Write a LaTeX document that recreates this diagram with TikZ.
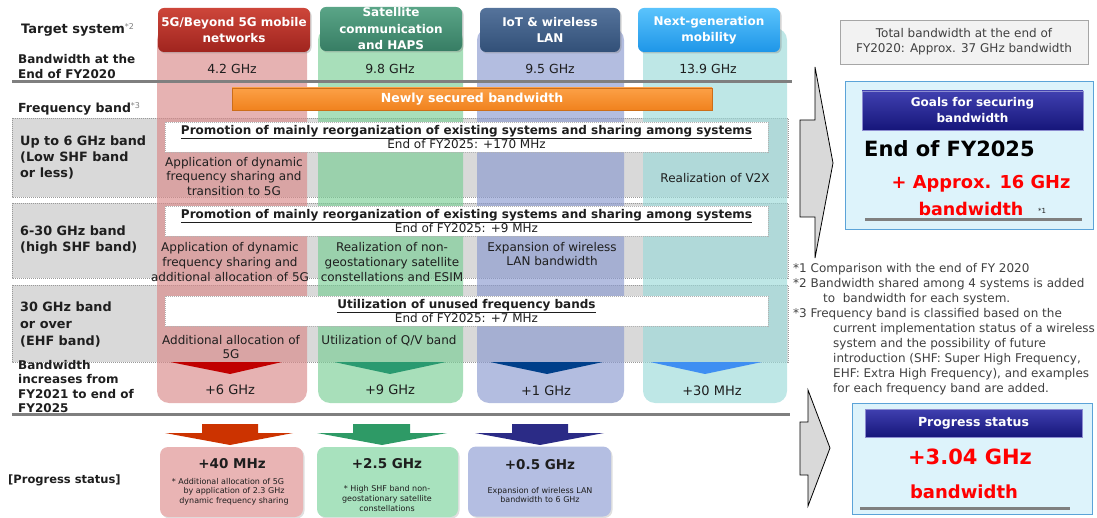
\documentclass[tikz,border=0pt]{standalone}
\usepackage{fontspec}
\setmainfont{DejaVu Sans}
\usetikzlibrary{shadows}
\newcommand\fsz[2]{\fontsize{#1}{#2}\selectfont}
\definecolor{cRed}{RGB}{217,137,137}
\definecolor{cGrn}{RGB}{121,206,149}
\definecolor{cBlu}{RGB}{138,153,207}
\definecolor{cTea}{RGB}{155,218,217}
\definecolor{rowg}{RGB}{217,217,217}
\definecolor{txt}{RGB}{30,30,30}
\definecolor{ftxt}{RGB}{64,64,64}
\definecolor{sepc}{RGB}{127,127,127}
\definecolor{hRedT}{RGB}{205,70,58}\definecolor{hRedB}{RGB}{160,36,30}
\definecolor{hGrnT}{RGB}{90,165,135}\definecolor{hGrnB}{RGB}{55,125,100}
\definecolor{hBluT}{RGB}{85,115,155}\definecolor{hBluB}{RGB}{50,80,120}
\definecolor{hSkyT}{RGB}{90,195,252}\definecolor{hSkyB}{RGB}{30,150,232}
\definecolor{orT}{RGB}{252,160,70}\definecolor{orB}{RGB}{240,130,30}
\definecolor{chR}{RGB}{192,0,0}
\definecolor{chG}{RGB}{42,154,112}
\definecolor{chB}{RGB}{0,63,138}
\definecolor{chS}{RGB}{63,143,242}
\definecolor{arR}{RGB}{204,51,0}
\definecolor{arG}{RGB}{46,154,102}
\definecolor{arB}{RGB}{43,43,134}
\definecolor{pRed}{RGB}{233,180,180}
\definecolor{pGrn}{RGB}{168,226,190}
\definecolor{pBlu}{RGB}{180,190,226}
\definecolor{goalbg}{RGB}{221,243,251}
\definecolor{goalbd}{RGB}{91,163,216}
\definecolor{navT}{RGB}{64,64,176}\definecolor{navB}{RGB}{22,22,122}
\definecolor{totbg}{RGB}{242,242,242}
\definecolor{bigar}{RGB}{217,217,217}
\begin{document}
\begin{tikzpicture}[x=1pt,y=-1pt,
  lbl/.style={font=\bfseries\fsz{12}{15}, align=left, anchor=west, inner sep=0pt, text=txt},
  rlbl/.style={font=\bfseries\fsz{12.8}{16}, align=left, anchor=west, inner sep=0pt, text=txt},
  ctxt/.style={font=\fsz{12}{14.8}, align=center, inner sep=0pt, text=txt},
  val/.style={font=\fsz{12.5}{15}, inner sep=0pt, text=txt},
  hdr/.style={rounded corners=6pt, text=white, font=\bfseries\fsz{12}{16.5}, align=center,
     minimum height=44pt, inner sep=0pt, drop shadow={shadow xshift=1.5pt, shadow yshift=-1.5pt, opacity=0.35}},
  rowbox/.style={fill=rowg, draw=gray!80, dash pattern=on 1pt off 1pt, line width=0.6pt},
  colbg/.style={fill opacity=0.65, rounded corners=12pt},
  wbox/.style={fill=white, draw=gray!60, dash pattern=on 1pt off 1pt, line width=0.5pt,
     minimum width=603pt, minimum height=30pt, inner sep=0pt, align=center, font=\fsz{12}{14}, text=txt},
  sep/.style={line width=3pt, draw=sepc},
  pbox/.style={rounded corners=8pt, minimum width=143pt, minimum height=70pt, inner sep=0pt,
     drop shadow={shadow xshift=1.5pt, shadow yshift=-1.5pt, opacity=0.25}},
  big/.style={font=\bfseries\fsz{13.5}{16}, inner sep=0pt, text=txt},
  small/.style={font=\fsz{8}{9.6}, align=center, inner sep=0pt, text=txt},
  bigarrow/.style={fill=bigar, draw=black, line width=0.8pt, line join=miter},
  ftn/.style={font=\fsz{12}{15}, align=left, inner sep=0pt, text=ftxt},
  redbig/.style={text=red, font=\bfseries, inner sep=0pt},
  navbar/.style={top color=navT, bottom color=navB, draw=navT!60, line width=0.5pt, text=white,
     font=\bfseries\fsz{12}{16}, align=center, inner sep=0pt}
]
\useasboundingbox (0,0) rectangle (1097,518);

% grey frequency rows
\draw[rowbox] (12,118) rectangle (788,197);
\draw[rowbox] (12,203) rectangle (788,278);
\draw[rowbox] (12,285) rectangle (788,362);

% column backgrounds
\fill[cRed, colbg] (157,28) rectangle (307,403);
\fill[cGrn, colbg] (318,28) rectangle (463,403);
\fill[cBlu, colbg] (477,28) rectangle (624,403);
\fill[cTea, colbg] (643,28) rectangle (787,403);

% column headers
\node[hdr, top color=hRedT, bottom color=hRedB, minimum width=152pt] (h1) at (234,30) {5G/Beyond 5G mobile\\networks};
\node[hdr, top color=hGrnT, bottom color=hGrnB, minimum width=142pt] (h2) at (391,29) {Satellite\\communication\\and HAPS};
\node[hdr, top color=hBluT, bottom color=hBluB, minimum width=140pt] (h3) at (550,30) {IoT \& wireless\\LAN};
\node[hdr, top color=hSkyT, bottom color=hSkyB, minimum width=142pt] (h4) at (709,30) {Next-generation\\mobility};

% left labels
\node[lbl, font=\bfseries\fsz{13}{15}] (ts) at (21,30) {Target system\textsuperscript{\mdseries\color{gray}\fsz{8}{9}*2}};
\node[lbl] (bw) at (18,66.5) {Bandwidth at the\\End of FY2020};
\node[val] (v1) at (232,69) {4.2 GHz};
\node[val] (v2) at (390,69) {9.8 GHz};
\node[val] (v3) at (550,69) {9.5 GHz};
\node[val] (v4) at (708,69) {13.9 GHz};

\draw[sep] (12,82) -- (792,82);

\node[lbl, font=\bfseries\fsz{12.5}{15}] (fb) at (18,109) {Frequency band\textsuperscript{\mdseries\color{gray}\fsz{8}{9}*3}};
\node[top color=orT, bottom color=orB, draw=orB!85!black, line width=0.5pt, minimum width=480pt, minimum height=22pt,
  inner sep=0pt, text=white, font=\bfseries\fsz{12.5}{14}] (nsb) at (472,99) {Newly secured bandwidth};

% row labels
\node[rlbl] (r1) at (20,157) {Up to 6 GHz band\\(Low SHF band\\or less)};
\node[rlbl] (r2) at (20,240) {6-30 GHz band\\(high SHF band)};
\node[rlbl, font=\bfseries\fsz{12.8}{17}] (r3) at (20,324) {30 GHz band\\or over\\(EHF band)};
\node[lbl, font=\bfseries\fsz{12}{14.3}] (r4) at (18,386.5) {Bandwidth\\increases from\\FY2021 to end of\\FY2025};

% white policy boxes
\node[wbox] (w1) at (466.5,137) {{\bfseries\underline{Promotion of mainly reorganization of existing systems and sharing among systems}}\\End of FY2025: +170 MHz};
\node[wbox] (w2) at (466.5,221) {{\bfseries\underline{Promotion of mainly reorganization of existing systems and sharing among systems}}\\End of FY2025: +9 MHz};
\node[wbox] (w3) at (466.5,311) {{\bfseries\underline{Utilization of unused frequency bands}}\\End of FY2025: +7 MHz};

% cell texts
\node[ctxt] (c11) at (234,176.5) {Application of dynamic\\frequency sharing and\\transition to 5G};
\node[ctxt] (c14) at (715,178) {Realization of V2X};
\node[ctxt] (c21) at (230,262) {Application of dynamic\\frequency sharing and\\additional allocation of 5G};
\node[ctxt] (c22) at (392,262) {Realization of non-\\geostationary satellite\\constellations and ESIM};
\node[ctxt] (c23) at (552,254) {Expansion of wireless\\LAN bandwidth};
\node[ctxt] (c31) at (231,347) {Additional allocation of\\5G};
\node[ctxt] (c32) at (389,341) {Utilization of Q/V band};

% chevrons
\fill[chR] (170,362) -- (282,362) -- (230,374) -- cycle;
\fill[chG] (334,362) -- (446,362) -- (390,374) -- cycle;
\fill[chB] (490,362) -- (603,362) -- (547,374) -- cycle;
\fill[chS] (650,362) -- (762,362) -- (705,374) -- cycle;

\node[val, font=\fsz{13}{15}] (i1) at (230,390) {+6 GHz};
\node[val, font=\fsz{13}{15}] (i2) at (390,390) {+9 GHz};
\node[val, font=\fsz{13}{15}] (i3) at (546,391) {+1 GHz};
\node[val, font=\fsz{13}{15}] (i4) at (712,391) {+30 MHz};

\draw[sep] (12,414) -- (790,414);

% progress section
\node[lbl, font=\bfseries\fsz{11.5}{14}] (ps) at (8,480) {[Progress status]};
\fill[arR] (202,424) -- (258,424) -- (258,433) -- (293,433) -- (230,445) -- (165,433) -- (202,433) -- cycle;
\fill[arG] (353,424) -- (410,424) -- (410,433) -- (447,433) -- (382,445) -- (317,433) -- (353,433) -- cycle;
\fill[arB] (512,424) -- (568,424) -- (568,433) -- (604,433) -- (540,445) -- (475,433) -- (512,433) -- cycle;

\node[pbox, fill=pRed] (p1) at (231.5,482) {};
\node[pbox, fill=pGrn, minimum width=141pt] (p2) at (387.5,482) {};
\node[pbox, fill=pBlu] (p3) at (539.5,481.5) {};
\node[big] (p1v) at (232,464) {+40 MHz};
\node[small] (p1t) at (228,491.5) {* Additional allocation of 5G\\\hspace*{1.5em}by application of 2.3 GHz\\\hspace*{1.5em}dynamic frequency sharing};
\node[big] (p2v) at (387,464) {+2.5 GHz};
\node[small] (p2t) at (387,498.5) {* High SHF band non-\\geostationary satellite\\constellations};
\node[big] (p3v) at (540,465) {+0.5 GHz};
\node[small] (p3t) at (540,495) {Expansion of wireless LAN\\bandwidth to 6 GHz};

% right side arrows
\draw[bigarrow] (800,120) -- (815,120) -- (815,67) -- (833,163) -- (815,258) -- (815,217) -- (800,217) -- cycle;
\draw[bigarrow] (800,422) -- (808,422) -- (808,390) -- (830,448) -- (808,506) -- (808,475) -- (800,475) -- cycle;

% total box
\node[fill=totbg, draw=gray!70, line width=0.8pt, minimum width=248pt, minimum height=44pt, inner sep=0pt,
  align=center, font=\fsz{12}{15}, text=ftxt] (tot) at (964,42) {Total bandwidth at the end of\\FY2020: Approx. 37 GHz bandwidth};

% goals box
\node[fill=goalbg, draw=goalbd, line width=1pt, minimum width=248pt, minimum height=148pt, inner sep=0pt] (goal) at (969,156) {};
\node[navbar, minimum width=221pt, minimum height=39pt] (gt) at (972.5,110.5) {Goals for securing\\bandwidth};
\node[inner sep=0pt, anchor=west, font=\bfseries\fsz{21}{24}, text=black] (g1) at (864,149) {End of FY2025};
\node[redbig, font=\bfseries\fsz{17.8}{20}] (g2) at (981,184) {+ Approx. 16 GHz};
\node[redbig, font=\bfseries\fsz{17.5}{20}] (g3) at (971,209) {bandwidth};
\node[inner sep=0pt, font=\fsz{7}{8}, text=txt] (g4) at (1042,211) {*1};
\draw[sep] (865,220) -- (1082,220);

% footnotes
\node[ftn, anchor=north west] (fn) at (793,263.5) {*1 Comparison with the end of FY 2020\\
*2 Bandwidth shared among 4 systems is added\\
\hspace*{30pt}to\ \ bandwidth for each system.\\
*3 Frequency band is classified based on the\\
\hspace*{40pt}current implementation status of a wireless\\
\hspace*{40pt}system and the possibility of future\\
\hspace*{40pt}introduction (SHF: Super High Frequency,\\
\hspace*{40pt}EHF: Extra High Frequency), and examples\\
\hspace*{40pt}for each frequency band are added.};

% progress status box
\node[fill=goalbg, draw=goalbd, line width=1pt, minimum width=240pt, minimum height=111pt, inner sep=0pt] (pst) at (972,458.5) {};
\node[navbar, minimum width=217pt, minimum height=28pt, font=\bfseries\fsz{12.5}{15}] (pt) at (973.5,423) {Progress status};
\node[redbig, font=\bfseries\fsz{21}{24}] (pv) at (970,457) {+3.04 GHz};
\node[redbig, font=\bfseries\fsz{18}{21}] (pb) at (964,492) {bandwidth};
\draw[sep] (860,508) -- (1070,508);
\end{tikzpicture}
\end{document}
